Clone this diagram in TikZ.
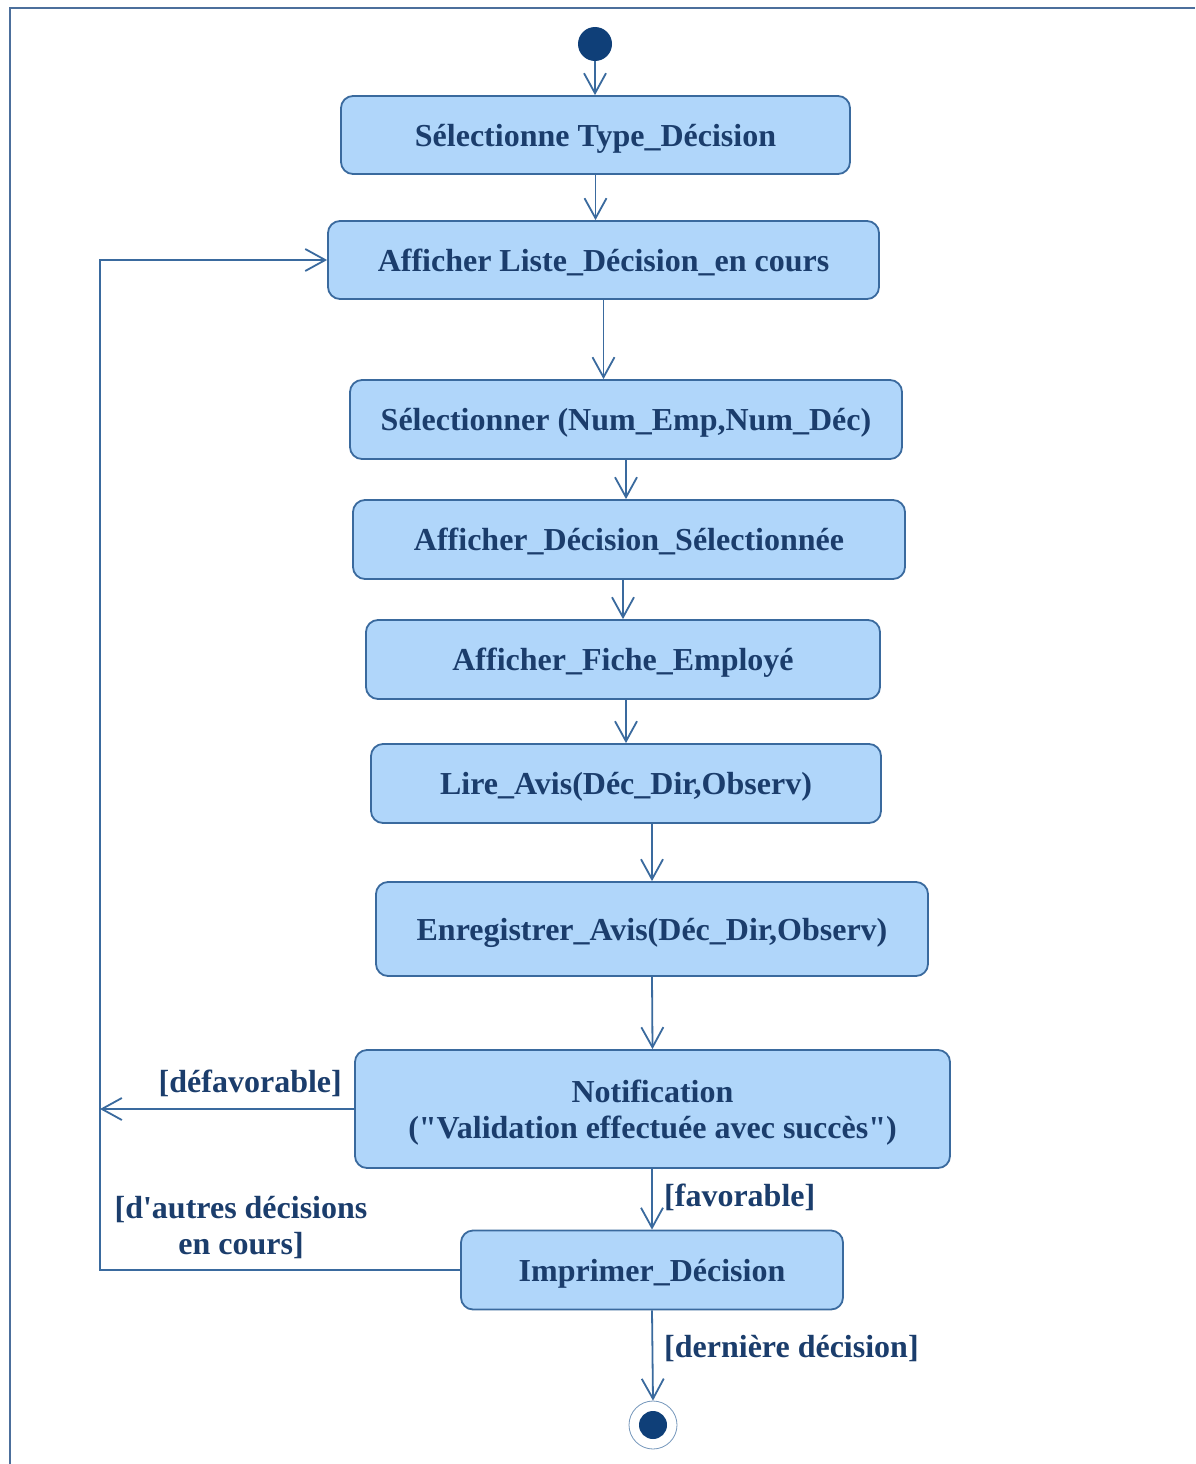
\documentclass[tikz,border=0pt]{standalone}
\usepackage{fontspec}
\setmainfont[Ligatures=TeXOff]{Liberation Serif}
\usetikzlibrary{arrows.meta}
\definecolor{boxblue}{HTML}{B0D6FA}
\definecolor{lineblue}{HTML}{3A6A9E}
\definecolor{textblue}{HTML}{1B3D6C}
\definecolor{dotblue}{HTML}{0F3F78}
\definecolor{framecol}{HTML}{4C6F9C}
\newcommand{\uml}{\fontsize{32}{36}\selectfont\bfseries}
\begin{document}
\begin{tikzpicture}[x=1pt,y=-1pt,
  act/.style={draw=lineblue, fill=boxblue, rounded corners=12pt, line width=1.8pt,
    text=textblue, font=\uml, align=center, inner sep=0pt, text depth=0pt},
  flow/.style={draw=lineblue, line width=1.8pt,
    -{Straight Barb[length=20pt,width=22pt,line width=1.8pt]}},
  guard/.style={text=textblue, font=\uml, inner sep=0pt, align=center}]
\useasboundingbox (0,0) rectangle (1195,1464);
\fill[white] (0,0) rectangle (1195,1464);
% outer frame
\draw[framecol, line width=2pt] (10,1464) -- (10,8) -- (1195,8);

% initial and final states
\node[circle, fill=dotblue, minimum size=34pt, inner sep=0pt] (start) at (595,44) {};
\node[circle, draw=lineblue!70, fill=white, line width=0.8pt, minimum size=48pt, inner sep=0pt] (stop) at (653,1425) {};
\fill[dotblue] (stop.center) circle (14pt);

% actions
\node[act, minimum width=509pt, minimum height=78pt] (typ) at (595.5,135) {Sélectionne Type\_Décision};
\node[act, minimum width=551pt, minimum height=78pt] (liste) at (603.5,260) {Afficher Liste\_Décision\_en cours};
\node[act, minimum width=552pt, minimum height=79pt] (selnum) at (626,419.5) {Sélectionner (Num\_Emp,Num\_Déc)};
\node[act, minimum width=552pt, minimum height=79pt] (affdec) at (629,539.5) {Afficher\_Décision\_Sélectionnée};
\node[act, minimum width=514pt, minimum height=79pt] (fiche) at (623,659.5) {Afficher\_Fiche\_Employé};
\node[act, minimum width=510pt, minimum height=79pt] (lire) at (626,783.5) {Lire\_Avis(Déc\_Dir,Observ)};
\node[act, minimum width=552pt, minimum height=94pt] (enreg) at (652,929) {Enregistrer\_Avis(Déc\_Dir,Observ)};
\node[act, minimum width=595pt, minimum height=118pt] (notif) at (652.5,1109) {Notification\\("Validation effectuée avec succès")};
\node[act, minimum width=382pt, minimum height=79pt] (imp) at (652,1270) {Imprimer\_Décision};

% loop-back route
\coordinate (loopB) at (100,1270);
\coordinate (loopT) at (100,260);
\coordinate (defEnd) at (100,1109);

% control flows
\draw[flow] (start) -- (start |- typ.north);
\draw[flow] (typ.south) -- (typ.south |- liste.north);
\draw[flow] (liste.south) -- (liste.south |- selnum.north);
\draw[flow] (selnum.south) -- (selnum.south |- affdec.north);
\draw[flow] (affdec.south -| fiche) -- (fiche.north);
\draw[flow] (fiche.south -| lire) -- (lire.north);
\draw[flow] (lire.south -| enreg) -- (enreg.north);
\draw[flow] (enreg.south) -- (notif.north);
\draw[flow] (notif.south -| imp) -- (imp.north);
\draw[flow] (imp.south) -- (stop.north);
\draw[flow] (notif.west) -- (defEnd);
\draw[flow] (imp.west) -- (loopB) -- (loopT) -- (liste.west);

% guards
\node[guard, anchor=east] (gdef) at (342,1083) {[défavorable]};
\node[guard] (gautres) at (241,1228) {[d'autres décisions\\en cours]};
\node[guard, anchor=west] (gfav) at (664,1197) {[favorable]};
\node[guard, anchor=west] (gder) at (664,1349) {[dernière décision]};
\end{tikzpicture}
\end{document}
